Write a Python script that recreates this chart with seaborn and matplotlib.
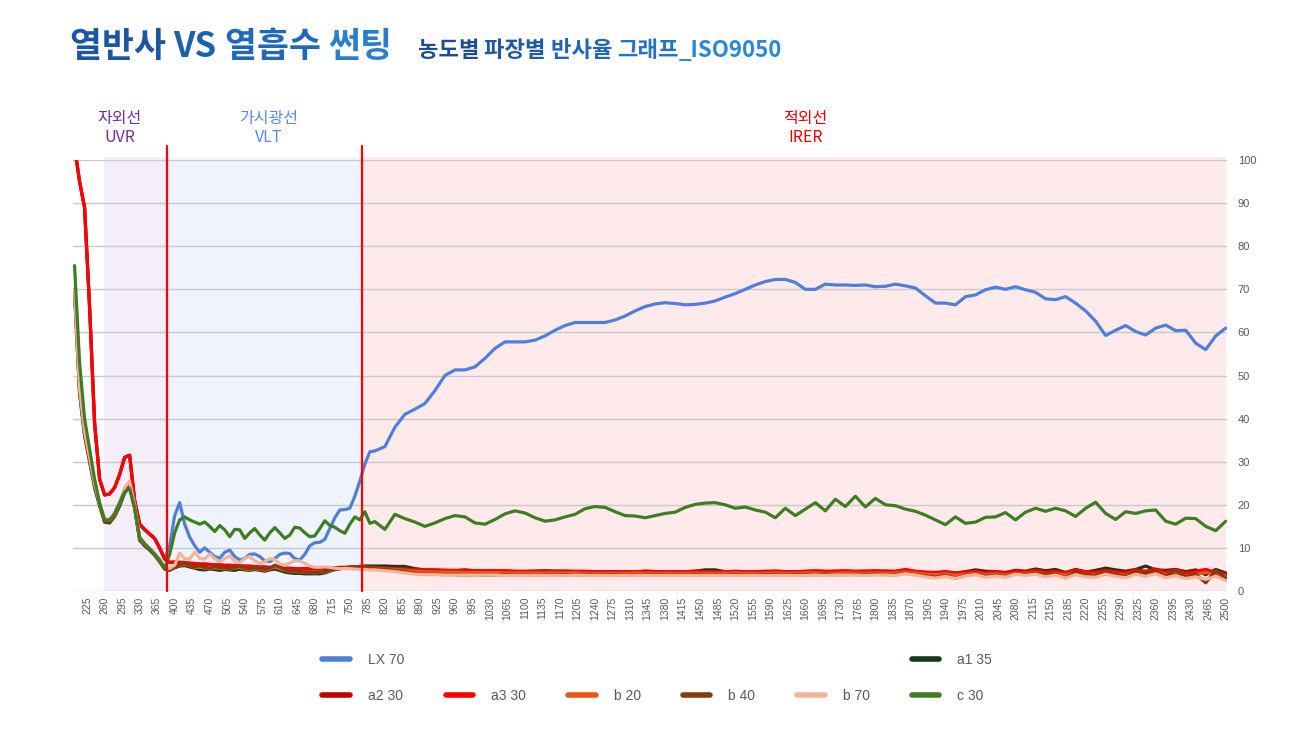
import numpy as np
import pandas as pd
import matplotlib
matplotlib.use("Agg")
import matplotlib.pyplot as plt
import seaborn as sns
from matplotlib.lines import Line2D
from matplotlib.transforms import blended_transform_factory

# wavelength grid (nm): 10 nm steps up to 790, 20 nm steps from 800
wl = list(range(200, 800, 10)) + list(range(800, 2501, 20))

# reflectance (%) per film
lx70 = [103, 95, 89, 66, 39, 26, 22.3, 22.5, 24, 27, 31, 31.5, 21, 15.5, 14.3, 13.2, 12.2, 10, 7.5, 10.5,
        17.5, 20.5, 15.5, 12.5, 10.5, 9, 10, 9, 8, 7.6, 9, 9.5, 8, 7.2, 7.6, 8.5, 8.6, 8, 7, 6.8,
        7.5, 8.5, 8.8, 8.7, 7.5, 7.2, 8.5, 10.5, 11.2, 11.3, 12, 14.5, 17, 18.8, 18.9, 19.2, 22, 25.5, 29.5, 32.3,
        32.5, 33.5, 38, 41, 42.2, 43.5, 46.5, 50, 51.3, 51.3, 52, 54, 56.3, 57.8, 57.8, 57.8, 58.2, 59.2, 60.5, 61.6,
        62.3, 62.3, 62.3, 62.3, 62.9, 63.8, 65, 66, 66.6, 66.9, 66.7, 66.4, 66.5, 66.8, 67.3, 68.2, 69, 70, 71, 71.8,
        72.3, 72.3, 71.6, 70, 70, 71.2, 71, 71, 70.9, 71, 70.6, 70.7, 71.2, 70.8, 70.3, 68.5, 66.8, 66.8, 66.4, 68.3,
        68.7, 69.9, 70.5, 70, 70.6, 69.9, 69.3, 67.8, 67.6, 68.3, 66.8, 65, 62.6, 59.3, 60.5, 61.6, 60.2, 59.4, 61, 61.7,
        60.4, 60.5, 57.5, 56, 59.2, 61]

a1_35 = [69, 46, 36, 30, 24, 19.8, 16, 15.8, 17.3, 19.7, 22.8, 24, 19.2, 11.8, 10.5, 9.5, 8.3, 6.8, 5.1, 4.8,
         5.4, 5.8, 5.9, 5.6, 5.3, 5.0, 4.9, 5.1, 5.0, 4.8, 5.0, 4.9, 4.8, 5.1, 4.9, 4.8, 5.0, 4.8, 4.6, 4.9,
         5.1, 4.8, 4.4, 4.2, 4.1, 4.1, 4.0, 4.0, 4.0, 4.0, 4.2, 4.6, 5.0, 5.2, 5.4, 5.5, 5.6, 5.7, 5.8, 5.8,
         5.8, 5.8, 5.7, 5.7, 5.2, 4.9, 4.8, 4.8, 4.7, 4.9, 4.7, 4.6, 4.6, 4.6, 4.5, 4.5, 4.6, 4.7, 4.6, 4.6,
         4.5, 4.5, 4.5, 4.5, 4.4, 4.4, 4.4, 4.6, 4.5, 4.4, 4.5, 4.4, 4.6, 4.9, 4.9, 4.5, 4.5, 4.4, 4.5, 4.5,
         4.6, 4.5, 4.4, 4.5, 4.5, 4.4, 4.6, 4.5, 4.5, 4.6, 4.5, 4.6, 4.5, 4.8, 4.4,
         4.3, 4.2, 4.4, 4.1, 4.5, 4.9, 4.6, 4.5, 4.3, 4.8, 4.6, 5.1, 4.7, 5.0, 4.3, 5.0, 4.4, 4.8, 5.3, 4.9,
         4.6, 5.0, 5.8, 4.9, 4.8, 5.0, 4.5, 4.9, 3.8, 5.0, 4.2]

a2_30 = [103, 95, 89, 66, 39, 26, 22.3, 22.5, 24, 27, 31, 31.5, 21, 15.5, 14.3, 13.2, 12.2, 10, 7.4, 6.6,
         6.6, 6.6, 6.5, 6.4, 6.3, 6.2, 6.2, 6.1, 6.0, 6.0, 5.9, 5.9, 5.8, 5.8, 5.7, 5.7, 5.6, 5.5, 5.5, 5.4,
         5.4, 5.3, 5.2, 5.2, 5.1, 5.1, 5.1, 5.1, 5.1, 5.1, 5.2, 5.2, 5.3, 5.4, 5.4, 5.5, 5.5, 5.5, 5.5, 5.4,
         5.3, 5.2, 5.1, 5.0, 4.9, 4.8, 4.8, 4.7, 4.7, 4.7, 4.6, 4.6, 4.6, 4.6, 4.5, 4.5, 4.5, 4.5, 4.5, 4.5,
         4.5, 4.5, 4.4, 4.4, 4.4, 4.4, 4.4, 4.5, 4.4, 4.4, 4.4, 4.4, 4.5, 4.4, 4.4, 4.4, 4.5, 4.4, 4.4, 4.5,
         4.5, 4.4, 4.4, 4.5, 4.6, 4.5, 4.5, 4.6, 4.5, 4.5, 4.6, 4.5, 4.5, 4.8, 4.5,
         4.2, 4.1, 4.4, 4.0, 4.3, 4.5, 4.1, 4.4, 4.0, 4.6, 4.4, 4.7, 4.2, 4.5, 4.0, 4.8, 4.3, 4.2, 4.6, 4.3,
         4.1, 4.8, 4.4, 5.0, 4.2, 4.7, 4.0, 4.4, 4.8, 4.1, 3.8]

a3_30 = [103, 95, 89, 66, 39, 26, 22.3, 22.5, 24, 27, 31, 31.5, 21, 15.5, 14.3, 13.2, 12.2, 10, 7.5, 6.7,
         6.8, 6.7, 6.6, 6.5, 6.4, 6.3, 6.3, 6.2, 6.1, 6.1, 6.0, 6.0, 5.9, 5.9, 5.8, 5.8, 5.7, 5.6, 5.6, 5.5,
         5.5, 5.4, 5.3, 5.3, 5.2, 5.2, 5.2, 5.2, 5.2, 5.2, 5.3, 5.3, 5.4, 5.5, 5.5, 5.6, 5.6, 5.6, 5.6, 5.5,
         5.4, 5.3, 5.2, 5.1, 5.0, 4.9, 4.9, 4.8, 4.8, 4.8, 4.7, 4.7, 4.7, 4.7, 4.6, 4.6, 4.6, 4.6, 4.6, 4.6,
         4.6, 4.6, 4.5, 4.5, 4.5, 4.5, 4.5, 4.6, 4.5, 4.5, 4.5, 4.5, 4.6, 4.5, 4.5, 4.5, 4.6, 4.5, 4.5, 4.6,
         4.6, 4.5, 4.5, 4.6, 4.7, 4.6, 4.6, 4.7, 4.6, 4.6, 4.7, 4.6, 4.6, 5.0, 4.6,
         4.4, 4.3, 4.5, 4.2, 4.4, 4.6, 4.3, 4.5, 4.2, 4.7, 4.5, 4.8, 4.4, 4.6, 4.2, 4.9, 4.5, 4.4, 4.8, 4.5,
         4.3, 4.9, 4.6, 5.1, 4.4, 4.9, 4.2, 4.6, 5.0, 4.3, 4.0]

b20 = [70, 46.5, 36.5, 30.5, 24.5, 20, 16.3, 16.1, 17.6, 20.2, 23.3, 24.8, 19.6, 12.2, 10.8, 9.8, 8.6, 7.1, 5.3, 5.0,
       5.6, 6.0, 6.1, 5.8, 5.5, 5.5, 5.3, 5.2, 5.4, 5.2, 5.2, 5.1, 5.3, 5.5, 5.1, 5.0, 5.2, 5.0, 4.8, 5.1,
       5.6, 5.2, 4.8, 4.5, 4.5, 4.4, 4.3, 4.3, 4.2, 4.3, 4.4, 4.7, 5.0, 5.2, 5.3, 5.4, 5.5, 5.5, 5.4, 5.3,
       5.3, 5.1, 5.0, 4.8, 4.6, 4.5, 4.4, 4.4, 4.4, 4.3, 4.3, 4.3, 4.3, 4.2, 4.2, 4.2, 4.2, 4.2, 4.2, 4.2,
       4.2, 4.1, 4.1, 4.1, 4.1, 4.1, 4.2, 4.1, 4.1, 4.1, 4.1, 4.1, 4.1, 4.1, 4.1, 4.1, 4.2, 4.1, 4.1, 4.1,
       4.2, 4.1, 4.1, 4.2, 4.2, 4.1, 4.1, 4.2, 4.2, 4.1, 4.2, 4.1, 4.2, 4.4, 4.2,
       3.9, 3.8, 4.0, 3.7, 3.9, 4.1, 3.8, 4.0, 3.7, 4.1, 4.0, 4.3, 3.8, 4.0, 3.7, 4.2, 3.9, 3.8, 4.2, 3.9,
       3.7, 4.3, 3.9, 4.5, 3.8, 4.1, 3.5, 3.9, 4.3, 3.6, 3.4]

b40 = [70, 46, 36.5, 30.5, 24.5, 20, 16.2, 16, 17.5, 20, 23, 24.5, 19.5, 12, 10.7, 9.7, 8.5, 7, 5.2, 4.9,
       5.5, 6.2, 6.3, 5.8, 5.6, 5.9, 5.5, 5.3, 5.7, 5.4, 5.4, 5.2, 5.5, 5.8, 5.3, 5.2, 5.4, 5.2, 5.0, 5.3,
       6.0, 5.6, 5.0, 4.6, 4.7, 4.5, 4.4, 4.4, 4.3, 4.4, 4.5, 4.8, 5.0, 5.2, 5.3, 5.4, 5.5, 5.5, 5.4, 5.3,
       5.2, 5.0, 4.8, 4.5, 4.1, 3.9, 3.9, 3.8, 3.8, 3.7, 3.8, 3.7, 3.7, 3.8, 3.7, 3.7, 3.6, 3.7, 3.7, 3.8,
       3.8, 3.7, 3.7, 3.7, 3.8, 3.6, 3.7, 3.7, 3.8, 3.7, 3.7, 3.7, 3.8, 3.7, 3.7, 3.7, 3.8, 3.7, 3.7, 3.8,
       3.8, 3.7, 3.8, 3.8, 3.8, 3.9, 3.8, 3.8, 3.9, 3.8, 3.9, 3.8, 3.8, 4.1, 3.8,
       3.5, 3.2, 3.6, 3.0, 3.6, 3.9, 3.4, 3.7, 3.3, 4.0, 3.8, 4.2, 3.7, 3.9, 3.1, 4.3, 3.8, 3.6, 4.3, 3.8,
       3.4, 4.5, 4.0, 4.6, 3.5, 4.7, 3.3, 3.9, 1.9, 4.8, 3.0]

b70 = [70, 47, 37, 31, 25, 20.5, 16.8, 16.5, 18, 20.5, 24, 25.5, 20, 12.5, 11, 10, 8.8, 7.3, 5.6, 5.2,
       6.0, 8.8, 7.5, 7.4, 9.0, 7.6, 7.4, 8.6, 7.5, 6.8, 7.5, 8.2, 6.8, 6.6, 7.6, 8.0, 7.0, 6.4, 6.8, 7.5,
       7.3, 6.3, 6.0, 6.5, 7.0, 7.0, 6.4, 5.8, 5.5, 5.5, 5.6, 5.5, 5.3, 5.2, 5.2, 5.2, 5.1, 5.0, 5.0, 4.9,
       4.9, 4.7, 4.5, 4.2, 3.9, 3.8, 3.8, 3.7, 3.7, 3.7, 3.7, 3.7, 3.7, 3.6, 3.6, 3.6, 3.6, 3.6, 3.6, 3.6,
       3.7, 3.6, 3.6, 3.6, 3.6, 3.6, 3.6, 3.6, 3.6, 3.6, 3.6, 3.6, 3.6, 3.6, 3.6, 3.6, 3.6, 3.6, 3.6, 3.6,
       3.6, 3.6, 3.6, 3.6, 3.7, 3.6, 3.7, 3.7, 3.7, 3.6, 3.7, 3.7, 3.6, 4.0, 3.7,
       3.3, 3.0, 3.4, 2.9, 3.5, 3.8, 3.2, 3.5, 3.2, 3.9, 3.6, 3.9, 3.3, 3.7, 3.0, 3.8, 3.3, 3.2, 3.9, 3.4,
       3.1, 3.9, 3.4, 4.0, 3.1, 3.5, 2.9, 3.3, 2.7, 3.4, 2.4]

c30 = [75.5, 53, 40, 33, 26, 20.5, 16.5, 16.5, 18, 20.5, 23, 23.8, 19.5, 12.5, 11, 9.8, 8.6, 7.2, 5.3, 8.5,
       13.5, 16.5, 17.2, 16.5, 16, 15.5, 16, 15, 13.8, 15.2, 14.2, 12.6, 14.3, 14.2, 12.2, 13.5, 14.5, 13, 11.8, 13.5,
       14.7, 13.5, 12.2, 13, 14.8, 14.6, 13.5, 12.6, 12.8, 14.5, 16.3, 15.2, 14.8, 14, 13.4, 15.5, 17.2, 16.5, 18.4, 15.7,
       16.1, 14.3, 17.8, 16.8, 16, 15, 15.8, 16.8, 17.5, 17.2, 15.8, 15.5, 16.6, 17.9, 18.6, 18.1, 17, 16.2, 16.5, 17.2,
       17.8, 19.1, 19.6, 19.4, 18.4, 17.5, 17.4, 17, 17.5, 18, 18.3, 19.4, 20.1, 20.4, 20.5, 20, 19.2, 19.5, 18.8, 18.3,
       17, 19.2, 17.5, 19, 20.5, 18.6, 21.3, 19.6, 22, 19.5, 21.5, 20, 19.8, 19, 18.5, 17.6, 16.5, 15.4, 17.2, 15.7,
       16, 17.1, 17.2, 18.2, 16.5, 18.3, 19.2, 18.5, 19.2, 18.6, 17.3, 19.2, 20.6, 18, 16.6, 18.4, 18, 18.6, 18.8, 16.2,
       15.5, 16.9, 16.8, 15, 14, 16.2]

series_names = ["LX 70", "a1 35", "a2 30", "a3 30", "b 20", "b 40", "b 70", "c 30"]
series_vals = [lx70, a1_35, a2_30, a3_30, b20, b40, b70, c30]
colors = {"LX 70": "#4f7fdb", "a1 35": "#143a17", "a2 30": "#c00000", "a3 30": "#ff0000",
          "b 20": "#e8561a", "b 40": "#843c0c", "b 70": "#f4b49c", "c 30": "#3f7d24"}

x_ticks = list(range(225, 2501, 35))

df = pd.concat([pd.DataFrame({"wl": wl, "series": n, "value": v})
                for n, v in zip(series_names, series_vals)], ignore_index=True)

sns.set_style("white")
plt.rcParams["font.family"] = ["Liberation Sans", "Noto Sans CJK KR", "DejaVu Sans"]
KR = ["Noto Sans CJK KR", "DejaVu Sans"]

fig = plt.figure(figsize=(13.14, 7.34), dpi=100)
ax = fig.add_axes([0.0556, 0.1948, 0.878, 0.5872])

# region shading and borders
ax.axvspan(258, 385, ymin=0, ymax=1.007, color="#f3eef8", zorder=0.2, clip_on=False, lw=0)
ax.axvspan(385, 775, ymin=0, ymax=1.007, color="#eef3fd", zorder=0.2, clip_on=False, lw=0)
ax.axvspan(775, 2500, ymin=0, ymax=1.007, color="#feeaeb", zorder=0.2, clip_on=False, lw=0)

sns.lineplot(data=df, x="wl", y="value", hue="series", hue_order=series_names,
             palette=colors, linewidth=2.3, legend=False, estimator=None, sort=False, ax=ax)

for xv in (385, 775):
    ax.axvline(xv, ymin=0, ymax=1.033, color="#ff0000", lw=1.6, clip_on=False, zorder=5)

ax.set_xlim(197, 2502)
ax.set_ylim(0, 100)
ax.set_yticks(range(0, 101, 10))
ax.set_xticks(x_ticks)
ax.set_xticklabels([str(t) for t in x_ticks], rotation=90)
ax.yaxis.tick_right()
ax.tick_params(axis="both", length=0, colors="#595959")
ax.tick_params(axis="x", labelsize=7.5, pad=4)
ax.tick_params(axis="y", labelsize=8, pad=8)
ax.yaxis.grid(True, color="#c9c9c9", lw=1)
ax.set_axisbelow(True)
for sp in ax.spines.values():
    sp.set_visible(False)
ax.set_xlabel("")
ax.set_ylabel("")

# region labels above the plot
tr = blended_transform_factory(ax.transData, ax.transAxes)
ax.text(290, 1.074, "자외선\nUVR", transform=tr, ha="center", va="center", color="#7030a0",
        fontsize=11.5, family=KR, linespacing=1.15)
ax.text(587, 1.074, "가시광선\nVLT", transform=tr, ha="center", va="center", color="#5a8ae0",
        fontsize=11.5, family=KR, linespacing=1.15)
ax.text(1660, 1.074, "적외선\nIRER", transform=tr, ha="center", va="center", color="#ee0000",
        fontsize=11.5, family=KR, linespacing=1.15)

# titles with a left-to-right blue shade
renderer = fig.canvas.get_renderer()


def shaded_text(chunks, x, y, size):
    for s, c in chunks:
        t = fig.text(x, y, s, color=c, fontsize=size, fontweight="bold", family=KR, va="baseline")
        bb = t.get_window_extent(renderer)
        x = bb.x1 / fig.bbox.width


shaded_text([("열반사 ", "#1b56a2"), ("VS ", "#1d60ad"), ("열흡수 ", "#2169b8"), ("썬팅", "#2a7fcb")],
            0.053, 0.923, 25)
shaded_text([("농도별 ", "#1c4c94"), ("파장별 ", "#1f58a3"), ("반사율 ", "#2365b2"),
             ("그래프", "#2674c1"), ("_ISO9050", "#2a88d4")], 0.318, 0.923, 16)

# legend laid out like the original (6 columns, two rows)
def h(name):
    return Line2D([], [], color=colors[name], lw=4, solid_capstyle="round")


blank = Line2D([], [], color="none")
handles = [h("LX 70"), h("a2 30"), blank, h("a3 30"), blank, h("b 20"),
           blank, h("b 40"), blank, h("b 70"), h("a1 35"), h("c 30")]
labels = ["LX 70", "a2 30", "", "a3 30", "", "b 20", "", "b 40", "", "b 70", "a1 35", "c 30"]
leg = fig.legend(handles, labels, ncol=6, loc="center", bbox_to_anchor=(0.5, 0.076),
                 frameon=False, fontsize=10, handlelength=2.0, handletextpad=1.3,
                 columnspacing=3.0, labelspacing=1.6)
for t in leg.get_texts():
    t.set_color("#595959")

fig.savefig("out.png", dpi=100)
